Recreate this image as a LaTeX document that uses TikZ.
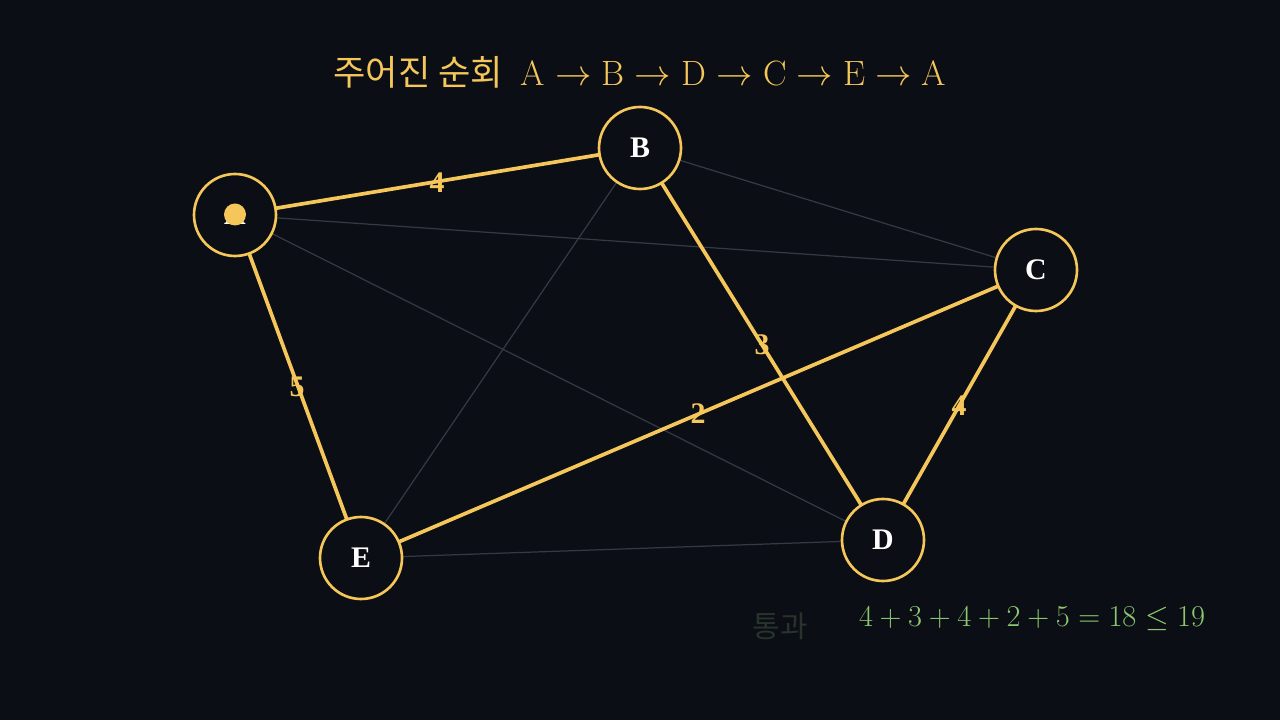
\documentclass[tikz,border=0pt]{standalone}
\usepackage{amsmath, amssymb, fontspec}
\newfontfamily\kr{Noto Sans CJK KR}
\newfontfamily\tms{Liberation Serif}
\definecolor{bgc}{HTML}{0B0E14}
\definecolor{gold}{HTML}{F5C65A}
\definecolor{dimline}{HTML}{313A45}
\definecolor{okgreen}{HTML}{8CC870}
\definecolor{dimgreen}{HTML}{27332C}

\begin{document}
\begin{tikzpicture}[
  vtx/.style={draw=gold,circle,line width=1.5pt,fill=bgc,minimum size=1.64cm,
    text=white,font=\tms\bfseries\fontsize{17}{20}\selectfont},
  tour/.style={draw=gold,line width=2.1pt},
  other/.style={draw=dimline,line width=0.7pt},
  wt/.style={text=gold,font=\tms\bfseries\fontsize{17}{20}\selectfont,inner sep=0pt}]
\fill[bgc] (0,0) rectangle (25.6,14.4);
\useasboundingbox (0,0) rectangle (25.6,14.4);
% the graph
\coordinate (pA) at(4.70,10.10);
\coordinate (pB) at(12.80,11.44);
\coordinate (pC) at(20.72,9.00);
\coordinate (pD) at(17.66,3.60);
\coordinate (pE) at(7.22,3.24);
\draw[other] (pA) -- (pC);
\draw[other] (pA) -- (pD);
\draw[other] (pB) -- (pC);
\draw[other] (pB) -- (pE);
\draw[other] (pE) -- (pD);
\draw[tour] (pA) -- (pB);
\draw[tour] (pB) -- (pD);
\draw[tour] (pD) -- (pC);
\draw[tour] (pC) -- (pE);
\draw[tour] (pE) -- (pA);
\node[vtx] (A)at(pA){A};
\node[vtx] (B)at(pB){B};
\node[vtx] (C)at(pC){C};
\node[vtx] (D)at(pD){D};
\node[vtx] (E)at(pE){E};
\fill[gold] (4.70,10.11) circle (0.22);
% weights
\node[wt] (wAB)at(8.74,10.74) {4};
\node[wt] (wBD)at(15.24,7.50) {3};
\node[wt] (wDC)at(19.18,6.28) {4};
\node[wt] (wCE)at(13.96,6.12) {2};
\node[wt] (wEA)at(5.94,6.66) {5};
% texts
\node[text=gold,font=\fontsize{20}{24}\selectfont] (title)at(12.80,12.96)
  {{\kr 주어진 순회}\enspace $\mathrm{A}\rightarrow\mathrm{B}\rightarrow\mathrm{D}\rightarrow\mathrm{C}\rightarrow\mathrm{E}\rightarrow\mathrm{A}$};
\node[text=dimgreen,font=\kr\fontsize{17}{20}\selectfont] (pass)at(15.60,1.88) {통과};
\node[text=okgreen,font=\fontsize{17.5}{20}\selectfont] (sum)at(20.64,2.02) {$4+3+4+2+5=18\leq 19$};
\end{tikzpicture}
\end{document}
